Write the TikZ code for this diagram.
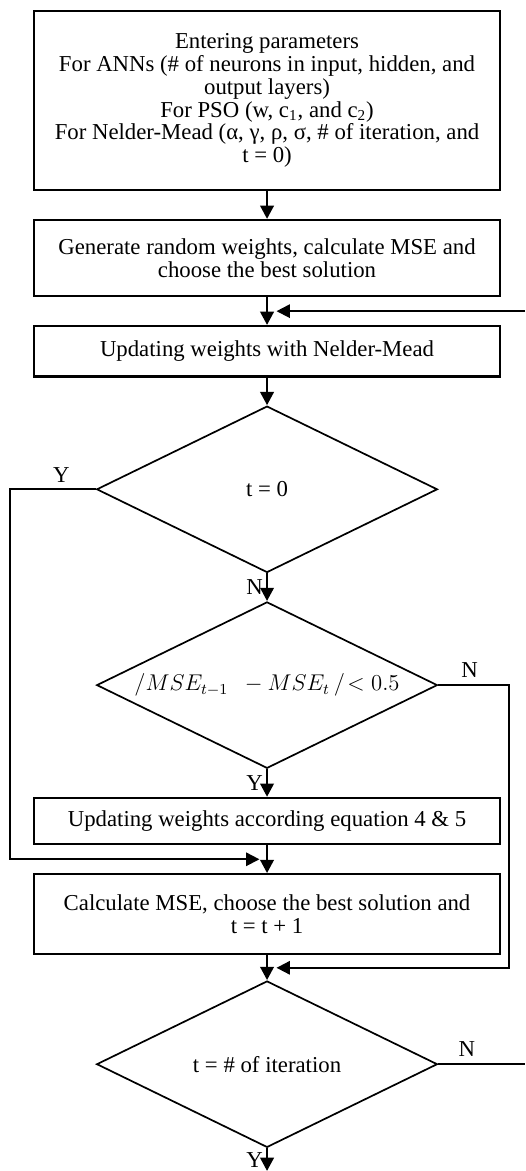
\documentclass[tikz,border=0pt]{standalone}
\usepackage{fontspec}
\setmainfont{Liberation Serif}
\usetikzlibrary{shapes.geometric, positioning, arrows.meta, calc}
\newcommand{\boxwidth}{246pt}
\tikzstyle{process} = [rectangle, 
minimum width=\boxwidth, 
text centered, align=center,
line width=1.1pt,
draw=black]
\tikzstyle{decision} = [diamond, aspect=2,
minimum width=179.6pt, 
minimum height=87.7pt, 
inner sep=0pt,
text centered, 
line width=0.9pt,
draw=black]
\tikzstyle{arrow} = [line width=1.5pt,-{Triangle[length=7pt,width=7pt]}]
\tikzstyle{line} = [line width=1pt]
\tikzstyle{loop} = [line width=1pt,-{Triangle[length=7pt,width=7pt]}]

\begin{document}
\begin{tikzpicture}[node distance=14.6pt, font=\fontsize{12}{12}\selectfont]

%-----------parameters
\node (box1) [process, minimum height=94.5pt]
  {Entering parameters\\
   For ANNs (\# of neurons in input, hidden, and\\
   output layers)\\
   For PSO (w, c\textsubscript{1}, and c\textsubscript{2})\\
   For Nelder-Mead (α, γ, ρ, σ, \# of iteration, and\\
   t = 0)};
%-----------initial solution
\node (box2) [process, minimum height=40.2pt, below=of box1]
  {Generate random weights, calculate MSE and\\ choose the best solution};
%-----------nelder-mead step
\node (box3) [process, minimum height=26.6pt, below=of box2]
  {Updating weights with Nelder-Mead};
%-----------first test
\node (d1) [decision, below=of box3] {t = 0};
%-----------convergence test
\node (d2) [decision, below=of d1]
  {$/MSE_{t-1}\ \ -MSE_t\,/\!<0.5$};
%-----------pso step
\node (box4) [process, minimum height=24.5pt, below=of d2]
  {Updating weights according equation 4 \& 5};
%-----------evaluation
\node (box5) [process, minimum height=42.3pt, below=of box4]
  {Calculate MSE, choose the best solution and\\ t = t + 1};
%-----------stop test
\node (d3) [decision, below=13pt of box5] {t = \# of iteration};

%-----------helper points
\coordinate (j0) at ($(box2.south)!0.5!(box3.north)$);
\coordinate (j1) at ($(box4.south)!0.5!(box5.north)$);
\coordinate (j2) at ($(box5.south)!0.5!(d3.north)$);
\coordinate [left=12pt of box4.west] (lx);
\coordinate [right=4.2pt of box5.east] (rx);
\coordinate [right=12.5pt of box1.east] (redge);
\coordinate [below=12pt of d3.south] (exit);
\coordinate (out) at (d3.east -| redge);
\coordinate (in) at (redge |- j0);

\useasboundingbox ([xshift=-17.2pt, yshift=5.2pt]box1.north west)
  rectangle (redge |- exit);

\draw [arrow] (box1) -- (box2);
\draw [arrow] (box2) -- (box3);
\draw [arrow] (box3) -- (d1);
\draw [arrow] (d1) -- node[left, inner sep=1.5pt] {N} (d2);
\draw [arrow] (d2) -- node[left, inner sep=1.5pt] {Y} (box4);
\draw [arrow] (box4) -- (box5);
\draw [arrow] (box5) -- (d3);
\draw [arrow] (d3) -- node[left, inner sep=1.5pt] {Y} (exit);
\draw [loop] (d1.west) -- node[above, pos=0.4] {Y} (d1.west -| lx)
  |- ([xshift=-4pt]j1);
\draw [loop] (d2.east) -- node[above, pos=0.44] {N} (d2.east -| rx)
  |- ([xshift=5pt]j2);
\draw [line] (d3.east) -- node[above, pos=0.33] {N} (out);
\draw [loop] (in) -- ([xshift=5pt]j0);

\end{tikzpicture}
\end{document}
